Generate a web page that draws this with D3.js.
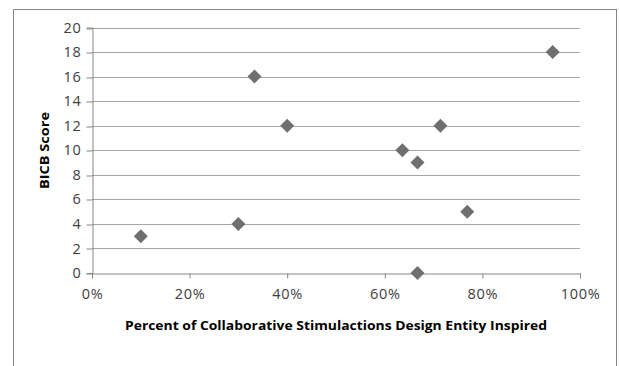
<!DOCTYPE html>
<html><head><meta charset="utf-8">
<script src="https://cdn.jsdelivr.net/npm/d3@7"></script>
<style>body{margin:0;background:#fff}svg{display:block}</style>
</head><body>
<script>
const xValues = [0.10, 0.30, 0.333, 0.40, 0.636, 0.667, 0.667, 0.714, 0.769, 0.944];
const yValues = [3, 4, 16, 12, 10, 9, 0, 12, 5, 18];
const xTicks = [0, 0.2, 0.4, 0.6, 0.8, 1.0];
const yTicks = [0, 2, 4, 6, 8, 10, 12, 14, 16, 18, 20];
const xTitle = "Percent of Collaborative Stimulactions Design Entity Inspired";
const yTitle = "BICB Score";

const W = 619, H = 366;
const svg = d3.select("body").append("svg").attr("width", W).attr("height", H);
const font = "'Open Sans', 'DejaVu Sans', sans-serif";

svg.append("rect").attr("x", 13.5).attr("y", 9.5).attr("width", 603).attr("height", 370)
  .attr("fill", "#fff").attr("stroke", "#868686");

const x = d3.scaleLinear().domain([0, 1]).range([92, 580]);
const y = d3.scaleLinear().domain([0, 20]).range([273, 27.5]);

// gridlines
svg.append("g").selectAll("line").data(yTicks.filter(d => d > 0)).join("line")
  .attr("x1", x(0)).attr("x2", x(1))
  .attr("y1", d => Math.round(y(d)) + 0.5).attr("y2", d => Math.round(y(d)) + 0.5)
  .attr("stroke", "#a6a6a6");

const yAxis = svg.append("g").attr("transform", `translate(${x(0) + 0.5},0)`)
  .call(d3.axisLeft(y).tickValues(yTicks).tickSize(6).tickPadding(5).tickFormat(d3.format("d")));
const xAxis = svg.append("g").attr("transform", `translate(0,${Math.round(y(0)) + 0.5})`)
  .call(d3.axisBottom(x).tickValues(xTicks).tickSize(5).tickPadding(10).tickFormat(d3.format(".0%")));
[yAxis, xAxis].forEach(a => {
  a.select(".domain").attr("stroke", "#868686");
  a.selectAll(".tick line").attr("stroke", "#868686");
  a.selectAll("text").attr("font-family", font).attr("font-size", 14.5).attr("fill", "#404040")
    .attr("letter-spacing", 0.7);
});
yAxis.selectAll(".tick line").attr("transform", d => `translate(0,${Math.round(y(d)) + 0.5 - y(d)})`);

// points
svg.append("g").selectAll("path").data(xValues.map((v, i) => [v, yValues[i]])).join("path")
  .attr("transform", d => `translate(${x(d[0])},${y(d[1])})`)
  .attr("d", "M0,-7L7,0L0,7L-7,0Z")
  .attr("fill", "#6f6f6f");

svg.append("text").attr("x", 336).attr("y", 330).attr("text-anchor", "middle")
  .attr("font-family", font).attr("font-weight", "bold").attr("font-size", 12.5)
  .attr("textLength", 422).attr("lengthAdjust", "spacingAndGlyphs")
  .attr("fill", "#000").text(xTitle);
svg.append("text").attr("transform", "translate(49,150.5) rotate(-90)").attr("text-anchor", "middle")
  .attr("font-family", font).attr("font-weight", "bold").attr("font-size", 13)
  .attr("textLength", 77).attr("lengthAdjust", "spacingAndGlyphs")
  .attr("fill", "#000").text(yTitle);
</script>
</body></html>
